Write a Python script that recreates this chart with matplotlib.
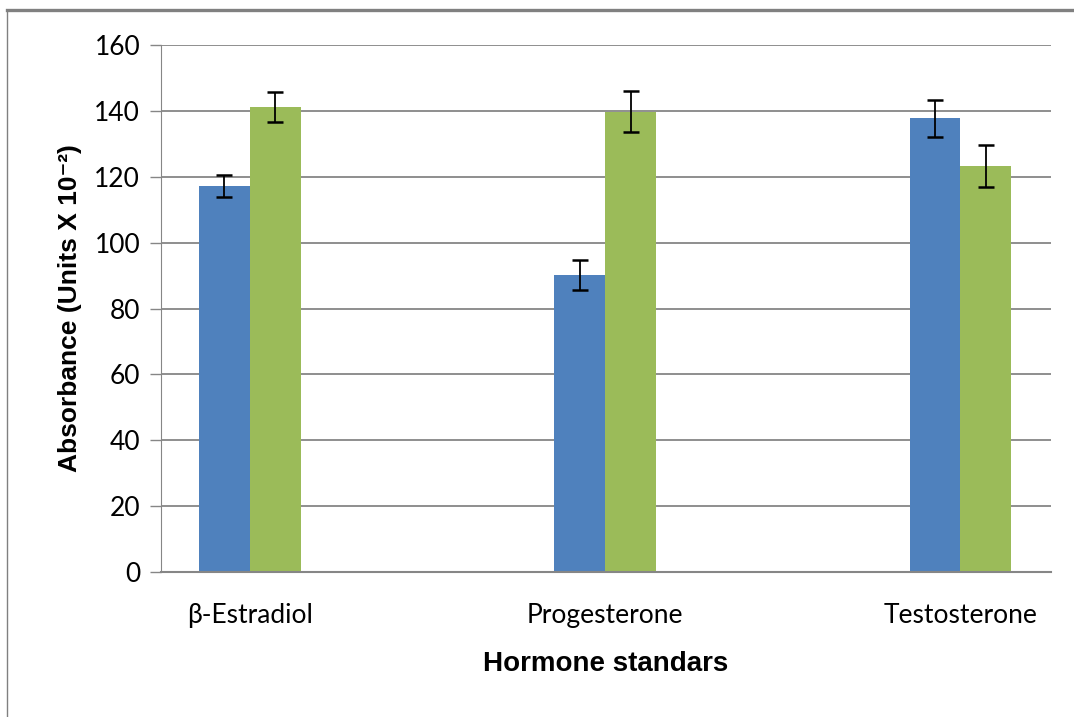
import numpy as np
import matplotlib
matplotlib.use("Agg")
import matplotlib.pyplot as plt
from matplotlib.lines import Line2D

categories = ["β-Estradiol", "Progesterone", "Testosterone"]
series_a = [117.2, 90.2, 137.8]
err_a = [3.4, 4.6, 5.6]
series_b = [141.2, 139.8, 123.3]
err_b = [4.6, 6.3, 6.3]
yticks = [0, 20, 40, 60, 80, 100, 120, 140, 160]

fig = plt.figure(figsize=(10.74, 7.17), dpi=100)
ax = fig.add_axes([0.1499, 0.2022, 0.8287, 0.735])

x = np.arange(len(categories))
w = 0.143
ax.bar(x - w / 2, series_a, w, color="#4F81BD", zorder=2)
ax.bar(x + w / 2, series_b, w, color="#9BBB59", zorder=2)
ax.errorbar(x - w / 2, series_a, yerr=err_a, fmt="none", ecolor="black",
            elinewidth=1.3, capsize=5.5, capthick=1.8, zorder=3)
ax.errorbar(x + w / 2, series_b, yerr=err_b, fmt="none", ecolor="black",
            elinewidth=1.3, capsize=5.5, capthick=1.8, zorder=3)

ax.set_xlim(-0.25, 2.255)
ax.set_ylim(0, 160)
ax.set_yticks(yticks)
ax.set_xticks(x)
ax.set_xticklabels(categories, family="Lato", fontsize=19)
ax.set_yticklabels([str(v) for v in yticks], family="Lato", fontsize=19)
ax.yaxis.grid(True, color="#868686", linewidth=1.3, zorder=0)
ax.set_axisbelow(True)
ax.tick_params(axis="y", length=8, color="#868686", width=1, pad=7)
ax.tick_params(axis="x", length=0, pad=22)
for s in ["top", "right"]:
    ax.spines[s].set_visible(False)
ax.spines["left"].set_color("#868686")
ax.spines["bottom"].set_color("#868686")
ax.spines["bottom"].set_linewidth(1.5)

ax.set_xlabel("Hormone standars", family=["Liberation Sans", "DejaVu Sans"],
              fontweight="bold", fontsize=20, labelpad=17)
ax.set_ylabel("Absorbance (Units X 10⁻²)", family=["Liberation Sans", "DejaVu Sans"],
              fontweight="bold", fontsize=19, labelpad=9)

# outer border lines (top and left)
fig.add_artist(Line2D([7 / 1074, 1], [1 - 9.5 / 717, 1 - 9.5 / 717],
                      transform=fig.transFigure, color="#808080", linewidth=2.4))
fig.add_artist(Line2D([7 / 1074, 7 / 1074], [0, 1 - 9.5 / 717],
                      transform=fig.transFigure, color="#808080", linewidth=1))

fig.savefig("out.png", dpi=100)
